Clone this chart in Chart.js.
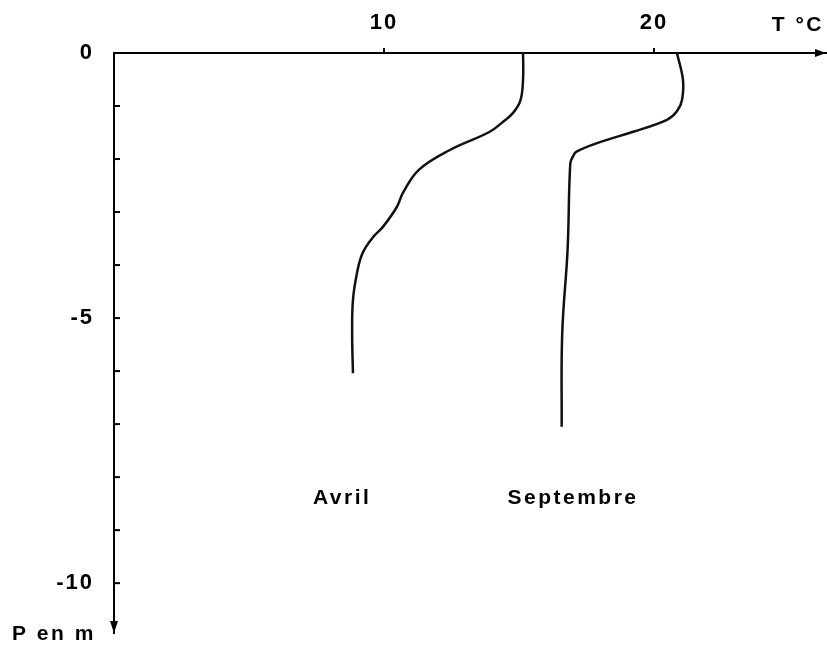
<!DOCTYPE html>
<html>
<head>
<meta charset="utf-8">
<script src="https://cdn.jsdelivr.net/npm/chart.js@4"></script>
<style>
  html, body { margin: 0; padding: 0; background: #fff; overflow: hidden; }
  canvas { display: block; }
</style>
</head>
<body>
<canvas id="profil" width="827" height="651"></canvas>
<script>
// profils de temperature (T en °C, P en m)
const avrilTemp  = [15.15, 15.15, 15.05, 14.78, 14.4, 13.9, 12.44, 11.3, 10.7, 10.48, 9.96, 9.6, 9.2, 9.0, 8.85, 8.82, 8.85];
const avrilDepth = [0, -0.5, -0.9, -1.13, -1.3, -1.49, -1.83, -2.2, -2.64, -2.9, -3.28, -3.47, -3.78, -4.15, -4.66, -5.28, -6.04];
const septTemp   = [20.85, 21.07, 21.04, 20.85, 20.48, 19.2, 18.0, 17.13, 17.0, 16.9, 16.8, 16.6, 16.58];
const septDepth  = [0, -0.5, -0.88, -1.1, -1.26, -1.49, -1.68, -1.86, -1.95, -2.08, -3.7, -5.3, -7.05];
const tempTicks  = [10, 20];
const depthLabels = [0, -5, -10];
const seriesNames = ['Avril', 'Septembre'];
const nameAt = [{ t: 8.45, p: -8.4 }, { t: 17.0, p: -8.4 }];

const FONT = '"Liberation Sans", Arial, Helvetica, sans-serif';

function pts(ts, ps) {
  return ts.map((t, i) => ({ x: t, y: ps[i] }));
}

// espacement des lettres comme sur l'original
const spacing = {
  id: 'spacing',
  beforeDraw(chart) { chart.ctx.letterSpacing = '2px'; }
};

const axisDecor = {
  id: 'axisDecor',
  afterDraw(chart) {
    const ctx = chart.ctx;
    const x = chart.scales.x, y = chart.scales.y;
    const x0 = x.getPixelForValue(0);
    const y0 = y.getPixelForValue(0);
    ctx.save();
    ctx.strokeStyle = '#000';
    ctx.fillStyle = '#000';
    ctx.lineWidth = 2;

    // petites graduations vers l'interieur sur l'axe P
    y.ticks.forEach(t => {
      if (!Number.isInteger(t.value) || t.value === 0) return;
      const py = y.getPixelForValue(t.value);
      ctx.beginPath();
      ctx.moveTo(x0, py);
      ctx.lineTo(x0 + 6, py);
      ctx.stroke();
    });
    // graduations de l'axe T
    tempTicks.forEach(v => {
      const px = x.getPixelForValue(v);
      ctx.beginPath();
      ctx.moveTo(px, y0);
      ctx.lineTo(px, y0 - 5);
      ctx.stroke();
    });

    // fleches
    const xe = x.getPixelForValue(x.max);
    ctx.beginPath();
    ctx.moveTo(xe, y0);
    ctx.lineTo(xe - 11, y0 - 4);
    ctx.lineTo(xe - 11, y0 + 4);
    ctx.closePath();
    ctx.fill();
    const ye = y.getPixelForValue(y.min);
    ctx.beginPath();
    ctx.moveTo(x0, ye);
    ctx.lineTo(x0 - 4, ye - 12);
    ctx.lineTo(x0 + 4, ye - 12);
    ctx.closePath();
    ctx.fill();

    // textes
    ctx.font = 'bold 21px ' + FONT;
    ctx.letterSpacing = '2.5px';
    ctx.textBaseline = 'middle';
    ctx.textAlign = 'right';
    ctx.fillText('T °C', xe - 2, 25);
    ctx.textAlign = 'left';
    ctx.fillText('P en m', 12, 634);
    ctx.textAlign = 'center';
    seriesNames.forEach((n, i) => {
      ctx.fillText(n, x.getPixelForValue(nameAt[i].t), y.getPixelForValue(nameAt[i].p));
    });
    ctx.restore();
  }
};

new Chart(document.getElementById('profil'), {
  type: 'scatter',
  data: {
    datasets: [
      { label: seriesNames[0], data: pts(avrilTemp, avrilDepth) },
      { label: seriesNames[1], data: pts(septTemp, septDepth) }
    ]
  },
  options: {
    responsive: false,
    animation: false,
    layout: { padding: { left: 0, right: 1, top: 0, bottom: 18 } },
    elements: {
      point: { radius: 0 },
      line: { borderColor: '#111', borderWidth: 2.5, tension: 0.4, fill: false }
    },
    datasets: { scatter: { showLine: true } },
    plugins: { legend: { display: false }, tooltip: { enabled: false } },
    scales: {
      x: {
        type: 'linear',
        position: 'top',
        min: 0,
        max: 26.37,
        afterFit: s => { s.height = 53; s.paddingLeft = 0; s.paddingRight = 0; },
        grid: { display: false },
        border: { display: true, color: '#000', width: 2 },
        ticks: {
          stepSize: 10,
          padding: 9,
          color: '#000',
          font: { family: FONT, size: 22, weight: 'bold' },
          callback: v => tempTicks.includes(v) ? String(v) : ''
        }
      },
      y: {
        type: 'linear',
        position: 'left',
        min: -10.94,
        max: 0,
        afterFit: s => { s.width = 114; s.paddingTop = 0; s.paddingBottom = 0; },
        grid: { display: false },
        border: { display: true, color: '#000', width: 2 },
        ticks: {
          stepSize: 1,
          autoSkip: false,
          padding: 12,
          color: '#000',
          font: { family: FONT, size: 22, weight: 'bold' },
          callback: v => depthLabels.includes(v) ? String(v) : ''
        }
      }
    }
  },
  plugins: [spacing, axisDecor]
});
</script>
</body>
</html>
